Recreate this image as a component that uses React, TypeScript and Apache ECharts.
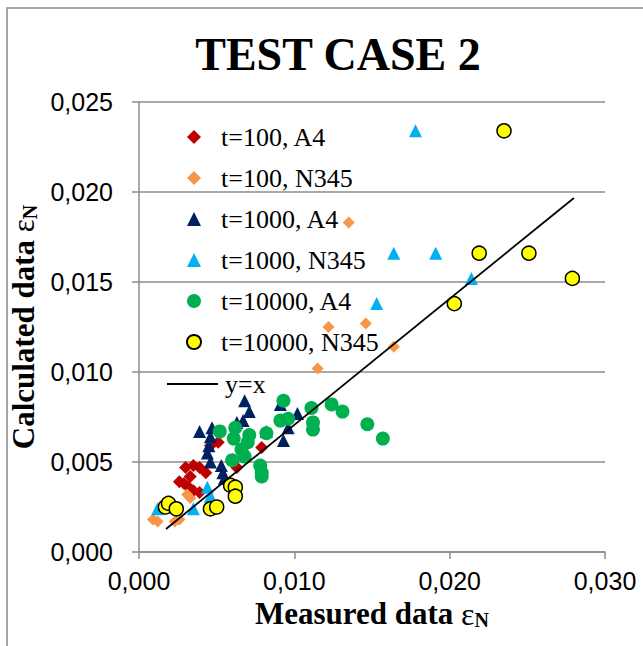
import React, { useEffect, useRef } from "react";
import * as echarts from "echarts";

// Measured (x) vs calculated (y) strain values per series
const t100A4: number[][] = [
  [0.0030, 0.0047], [0.0035, 0.0048], [0.0039, 0.0047], [0.0033, 0.0042],
  [0.0029, 0.0038], [0.0032, 0.0036], [0.0035, 0.0034], [0.0039, 0.0033],
  [0.0046, 0.0059], [0.0051, 0.0061], [0.0063, 0.0047], [0.0079, 0.0058],
  [0.0043, 0.0044], [0.0026, 0.0039],
];
const t100N345: number[][] = [
  [0.0135, 0.0183], [0.0122, 0.0125], [0.0146, 0.0127], [0.0115, 0.0102],
  [0.0164, 0.0114], [0.0009, 0.0018], [0.0012, 0.0017], [0.0023, 0.0017],
  [0.0026, 0.0018], [0.0033, 0.0030], [0.0031, 0.0032],
];
const t1000A4: number[][] = [
  [0.0068, 0.0084], [0.0071, 0.0078], [0.0067, 0.0073], [0.0063, 0.0072],
  [0.0039, 0.0067], [0.0047, 0.0069], [0.0046, 0.0064], [0.0045, 0.0059],
  [0.0044, 0.0055], [0.0046, 0.0050], [0.0053, 0.0048], [0.0054, 0.0044],
  [0.0055, 0.0041], [0.0091, 0.0082], [0.0102, 0.0077], [0.0096, 0.0069],
  [0.0093, 0.0062], [0.0082, 0.0067],
];
const t1000N345: number[][] = [
  [0.0178, 0.0234], [0.0164, 0.0166], [0.0191, 0.0166], [0.0214, 0.0152],
  [0.0153, 0.0138], [0.0012, 0.0024], [0.0035, 0.0024], [0.0044, 0.0036],
  [0.0046, 0.0031],
];
const t10000A4: number[][] = [
  [0.0052, 0.0067], [0.0062, 0.0069], [0.0061, 0.0063], [0.0071, 0.0065],
  [0.0070, 0.0061], [0.0066, 0.0057], [0.0068, 0.0053], [0.0060, 0.0051],
  [0.0082, 0.0066], [0.0093, 0.0084], [0.0091, 0.0073], [0.0096, 0.0074],
  [0.0111, 0.0080], [0.0124, 0.0082], [0.0131, 0.0078], [0.0112, 0.0072],
  [0.0112, 0.0068], [0.0147, 0.0071], [0.0157, 0.0063], [0.0078, 0.0048],
  [0.0079, 0.0044], [0.0079, 0.0042],
];
const t10000N345: number[][] = [
  [0.0235, 0.0234], [0.0219, 0.0166], [0.0251, 0.0166], [0.0279, 0.0152],
  [0.0203, 0.0138], [0.0017, 0.0025], [0.0019, 0.0027], [0.0024, 0.0024],
  [0.0046, 0.0024], [0.0050, 0.0025], [0.0059, 0.0037], [0.0062, 0.0036],
  [0.0062, 0.0031],
];
const refLine: number[][] = [[0.00174, 0.00128], [0.0280, 0.01967]];

const seriesNames = [
  "t=100, A4", "t=100, N345", "t=1000, A4", "t=1000, N345",
  "t=10000, A4", "t=10000, N345", "y=x",
];

const fmt = (v: number) => v.toFixed(3).replace(".", ",");

export default function App() {
  const ref = useRef<HTMLDivElement>(null);
  useEffect(() => {
    if (!ref.current) return;
    const chart = echarts.init(ref.current, null, { renderer: "svg" });
    const serif = "'Liberation Serif', 'Times New Roman', serif";
    const sans = "'Liberation Sans', Arial, sans-serif";
    const axisGray = "#8c8c8c";
    const scatter = (name: string, data: number[][], symbol: string, size: number, color: string, border?: string) => ({
      type: "scatter",
      name,
      data,
      symbol,
      symbolSize: size,
      itemStyle: border
        ? { color, borderColor: border, borderWidth: 1.5, opacity: 1 }
        : { color, opacity: 1 },
      emphasis: { disabled: true },
    });
    const legendText = { fontFamily: serif, fontSize: 26, color: "#000" };
    chart.setOption({
      animation: false,
      title: {
        text: "TEST CASE 2",
        left: 333,
        textAlign: "center",
        top: 26,
        textStyle: { fontFamily: serif, fontWeight: "bold", fontSize: 46, color: "#000" },
      },
      graphic: [
        {
          type: "rect",
          shape: { x: 7, y: 8, width: 700, height: 700 },
          style: { fill: "none", stroke: "#8a8a8a", lineWidth: 1.5 },
          silent: true,
        },
      ],
      legend: [
        {
          orient: "vertical",
          left: 181,
          top: 119,
          itemWidth: 14,
          itemHeight: 14,
          itemGap: 15,
          data: seriesNames.slice(0, 6),
          textStyle: { ...legendText, padding: [0, 0, 0, 15] },
        },
        {
          orient: "vertical",
          left: 162,
          top: 366,
          itemWidth: 51,
          itemHeight: 2,
          data: [{ name: seriesNames[6], icon: "rect" }],
          textStyle: { ...legendText, padding: [0, 0, 0, 2] },
        },
      ],
      grid: { left: 139, right: 38, top: 102, bottom: 94 },
      xAxis: {
        type: "value",
        min: 0,
        max: 0.03,
        interval: 0.01,
        name: "{n|Measured data }{e|ε}{s|N}",
        nameLocation: "middle",
        nameGap: 45,
        nameTextStyle: {
          rich: {
            n: { fontFamily: serif, fontWeight: "bold", fontSize: 31, color: "#000" },
            e: { fontFamily: serif, fontSize: 32, color: "#000" },
            s: { fontFamily: serif, fontWeight: "bold", fontSize: 20, color: "#000", padding: [12, 0, 0, 0] },
          },
        },
        axisLine: { lineStyle: { color: axisGray, width: 1.5 } },
        axisTick: { show: true, length: 7, lineStyle: { color: axisGray, width: 1.5 } },
        axisLabel: { formatter: fmt, fontFamily: sans, fontSize: 25, color: "#000", margin: 16 },
        splitLine: { show: false },
      },
      yAxis: {
        type: "value",
        min: 0,
        max: 0.025,
        interval: 0.005,
        name: "{n|Calculated data }{e|ε}{s|N}",
        nameLocation: "middle",
        nameGap: 94,
        nameTextStyle: {
          rich: {
            n: { fontFamily: serif, fontWeight: "bold", fontSize: 31, color: "#000" },
            e: { fontFamily: serif, fontSize: 31, color: "#000" },
            s: { fontFamily: serif, fontWeight: "bold", fontSize: 20, color: "#000", padding: [12, 0, 0, 0] },
          },
        },
        axisLine: { show: true, lineStyle: { color: axisGray, width: 1.5 } },
        axisTick: { show: true, length: 7, lineStyle: { color: axisGray, width: 1.5 } },
        axisLabel: { formatter: fmt, fontFamily: sans, fontSize: 25, color: "#000", margin: 26 },
        splitLine: { show: true, lineStyle: { color: axisGray, width: 1.5 } },
      },
      series: [
        scatter(seriesNames[0], t100A4, "diamond", 13, "#C00000"),
        scatter(seriesNames[1], t100N345, "diamond", 12, "#F79646"),
        scatter(seriesNames[2], t1000A4, "triangle", 13, "#002060"),
        scatter(seriesNames[3], t1000N345, "triangle", 13, "#00B0F0"),
        scatter(seriesNames[4], t10000A4, "circle", 14, "#00B050"),
        scatter(seriesNames[5], t10000N345, "circle", 14, "#FFFF00", "#000"),
        {
          type: "line",
          name: seriesNames[6],
          data: refLine,
          symbol: "none",
          lineStyle: { color: "#000", width: 1.8 },
          itemStyle: { color: "#000" },
          emphasis: { disabled: true },
        },
      ],
    });
    return () => chart.dispose();
  }, []);
  return (
    <div
      ref={ref}
      style={{ position: "fixed", left: 0, top: 0, width: 643, height: 646, background: "#fff" }}
    />
  );
}
